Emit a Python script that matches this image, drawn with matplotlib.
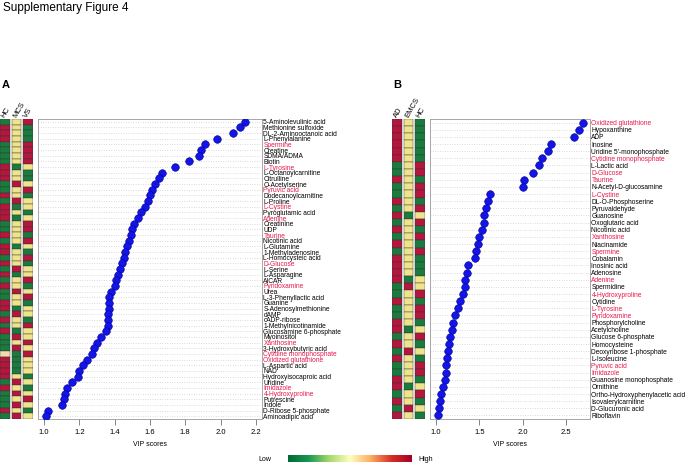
import numpy as np
import matplotlib.pyplot as plt
from matplotlib.colors import LinearSegmentedColormap

plt.rcParams['font.family'] = ['Liberation Sans', 'DejaVu Sans']

# ---------------- panel A data ----------------
a_names = ['5-Aminolevulinic acid', 'Methionine sulfoxide', 'DL-2-Aminooctanoic acid', 'L-Phenylalanine',
           'Spermine', 'Creatine', 'SDMA/ADMA', 'Biotin', 'L-Tyrosine', 'L-Octanoylcarnitine', 'Citrulline',
           'O-Acetylserine', 'Pyruvic acid', 'Dodecanoylcarnitine', 'L-Proline', 'L-Cystine',
           'Pyroglutamic acid', 'Adenine', 'Creatinine', 'UDP', 'Taurine', 'Nicotinic acid', 'L-Glutamine',
           '1-Methyladenosine', 'L-Homocysteic acid', 'D-Glucose', 'L-Serine', 'L-Asparagine', 'AICAR',
           'Pyridoxamine', 'Urea', 'L-3-Phenyllactic acid', 'Guanine', 'S-Adenosylmethionine', 'dAMP',
           'cADP-ribose', '1-Methylnicotinamide', 'Glucosamine 6-phosphate', 'Myoinositol', 'Xanthosine',
           '3-Hydroxybutyric acid', 'Cytidine monophosphate', 'Oxidized glutathione', 'L-Aspartic acid', 'NAD',
           'Hydroxyisocaproic acid', 'Uridine', 'Imidazole', '4-Hydroxyproline', 'Putrescine', 'Indole',
           'D-Ribose 5-phosphate', 'Aminoadipic acid']
a_vip = [2.14, 2.11, 2.07, 1.98, 1.91, 1.89, 1.88, 1.82, 1.74, 1.67, 1.65, 1.63, 1.61, 1.60, 1.59, 1.57,
         1.55, 1.53, 1.51, 1.50, 1.49, 1.48, 1.47, 1.46, 1.45, 1.44, 1.43, 1.42, 1.41, 1.40, 1.38, 1.37,
         1.37, 1.37, 1.36, 1.36, 1.36, 1.35, 1.32, 1.30, 1.28, 1.27, 1.24, 1.22, 1.20, 1.19, 1.16, 1.13,
         1.12, 1.11, 1.10, 1.02, 1.01]
a_red = ['Spermine', 'L-Tyrosine', 'Pyruvic acid', 'L-Cystine', 'Adenine', 'Taurine', 'D-Glucose',
         'Pyridoxamine', 'Xanthosine', 'Cytidine monophosphate', 'Oxidized glutathione', 'Imidazole',
         '4-Hydroxyproline']
a_groups = ['HC', 'MCS', 'VS']
# g = low, y = mid, r = high, t = tie
a_levels = ['gyr', 'ryg', 'ryg', 'ryg', 'gyr', 'gyr', 'gyr', 'gyr', 'rgy', 'ryg', 'ryg', 'gry', 'gyr',
            'ryg', 'gry', 'rgy', 'ryg', 'rgy', 'gyr', 'gyr', 'ryg', 'gyr', 'rgy', 'ryg', 'gyr', 'ryg',
            'gry', 'rgy', 'gyr', 'ryg', 'gry', 'gyr', 'ryg', 'rgy', 'gry', 'ryg', 'gyr', 'rgy', 'gry',
            'gyr', 'gry', 'tgr', 'rgy', 'rgy', 'rgy', 'ryg', 'gry', 'ryg', 'gry', 'gyr', 'gry', 'ryg', 'gry']

# ---------------- panel B data ----------------
b_names = ['Oxidized glutathione', 'Hypoxanthine', 'ADP', 'Inosine', "Uridine 5'-monophosphate",
           'Cytidine monophosphate', 'L-Lactic acid', 'D-Glucose', 'Taurine', 'N-Acetyl-D-glucosamine',
           'L-Cystine', 'DL-O-Phosphoserine', 'Pyruvaldehyde', 'Guanosine', 'Oxoglutaric acid',
           'Nicotinic acid', 'Xanthosine', 'Niacinamide', 'Spermine', 'Cobalamin', 'Inosinic acid',
           'Adenosine', 'Adenine', 'Spermidine', '4-Hydroxyproline', 'Cytidine', 'L-Tyrosine',
           'Pyridoxamine', 'Phosphorylcholine', 'Acetylcholine', 'Glucose 6-phosphate', 'Homocysteine',
           'Deoxyribose 1-phosphate', 'L-Isoleucine', 'Pyruvic acid', 'Imidazole',
           'Guanosine monophosphate', 'Ornithine', 'Ortho-Hydroxyphenylacetic acid', 'Isovalerylcarnitine',
           'D-Glucuronic acid', 'Riboflavin']
b_vip = [2.70, 2.65, 2.60, 2.33, 2.30, 2.22, 2.19, 2.12, 2.02, 2.00, 1.62, 1.60, 1.58, 1.56, 1.55, 1.53,
         1.50, 1.48, 1.46, 1.45, 1.37, 1.36, 1.34, 1.33, 1.31, 1.28, 1.25, 1.22, 1.20, 1.18, 1.16, 1.15,
         1.14, 1.13, 1.12, 1.11, 1.10, 1.08, 1.06, 1.04, 1.03, 1.02]
b_red = ['Oxidized glutathione', 'Cytidine monophosphate', 'D-Glucose', 'Taurine', 'L-Cystine',
         'Xanthosine', 'Spermine', 'Adenine', '4-Hydroxyproline', 'L-Tyrosine', 'Pyridoxamine',
         'Pyruvic acid', 'Imidazole']
b_groups = ['AD', 'EMCS', 'HC']
b_levels = ['ryg', 'ryg', 'ryg', 'ryg', 'ryg', 'ryg', 'gyr', 'gyr', 'ryg', 'gyr', 'gyr', 'ryg', 'gyr',
            'rgy', 'gyr', 'ryg', 'gyr', 'ryg', 'gyr', 'ryg', 'ryg', 'ryg', 'rgy', 'gry', 'gyr', 'ryg',
            'gyr', 'gyr', 'ryg', 'rgy', 'gyr', 'ryg', 'gry', 'ryg', 'gyr', 'gyr', 'ryg', 'rgy', 'gyr',
            'ryg', 'gry', 'ryg']

cell_col = {'g': '#1b7a3d', 'y': '#efe38c', 'r': '#b3173d', 't': '#f2dcae'}
hl_col = '#e8194b'

W, H = 690, 465
fig = plt.figure(figsize=(W / 100, H / 100), dpi=100)


def px(x0, y0, x1, y1):
    # pixel box -> figure fraction
    return [x0 / W, 1 - y1 / H, (x1 - x0) / W, (y1 - y0) / H]


def draw_panel(names, vip, red, groups, levels, heat_box, box, xlim, xticks, letter):
    n = len(names)
    y = np.arange(n)

    # heatmap strip
    hx = fig.add_axes(px(*heat_box))
    for j, g in enumerate(groups):
        cols = [cell_col[lv[j]] for lv in levels]
        hx.barh(y, 1, left=j * 1.2, height=1, color=cols, edgecolor='#333333', linewidth=0.3)
        hx.text(j * 1.2 + 0.3, -0.8, g, rotation=60, fontsize=5.5, ha='left', va='center',
                rotation_mode='anchor')
    hx.set_ylim(n - 0.5, -0.5)
    hx.set_xlim(-0.05, 3.45)
    hx.axis('off')

    # VIP dot plot
    ax = fig.add_axes(px(*box))
    for yy in y:
        ax.axhline(yy, color='#bbbbbb', ls=(0, (1, 2.5)), lw=0.5, zorder=1)
    ax.scatter(vip, y, s=30, c='#1414e6', edgecolors='#00008b', linewidths=0.4, zorder=3)
    ax.set_ylim(n - 0.5, -0.5)
    ax.set_xlim(*xlim)
    ax.yaxis.tick_right()
    ax.set_yticks(y)
    ax.set_yticklabels(names, fontsize=4.8)
    for lab in ax.get_yticklabels():
        if lab.get_text() in red:
            lab.set_color(hl_col)
    ax.tick_params(axis='y', length=0, pad=1)
    ax.set_xticks(xticks)
    ax.set_xticklabels([f'{t:.1f}' for t in xticks])
    ax.tick_params(axis='x', labelsize=5.5, length=4, width=0.5, pad=3, color='#555555')
    for s in ax.spines.values():
        s.set_color('#999999')
        s.set_linewidth(0.6)
    ax.set_xlabel('VIP scores', fontsize=5, labelpad=4)
    fig.text(heat_box[0] / W + 0.002, 1 - 85 / H, letter, fontsize=8, fontweight='bold', va='center')


fig.text(3 / W, 1 - 8 / H, 'Supplementary Figure 4', fontsize=8.5, va='center')

draw_panel(a_names, a_vip, a_red, a_groups, a_levels, (0, 119, 33, 419), (38, 119, 262, 419),
           (0.965, 2.235), [1.0, 1.2, 1.4, 1.6, 1.8, 2.0, 2.2], 'A')
draw_panel(b_names, b_vip, b_red, b_groups, b_levels, (392, 119, 425, 419), (430, 119, 590, 419),
           (0.93, 2.78), [1.0, 1.5, 2.0, 2.5], 'B')

# Low / High colour key
cmap = LinearSegmentedColormap.from_list('key', ['#006837', '#1a9850', '#a6d96a', '#ffffbf',
                                                 '#fdae61', '#d73027', '#a50026'])
kx = fig.add_axes(px(288, 455, 412, 462))
kx.imshow(np.linspace(0, 1, 256)[None, :], aspect='auto', cmap=cmap)
kx.axis('off')
fig.text(258 / W, 1 - 459 / H, 'Low', fontsize=5, va='center')
fig.text(418 / W, 1 - 459 / H, 'High', fontsize=5, va='center')

fig.savefig('out.png', dpi=100)
